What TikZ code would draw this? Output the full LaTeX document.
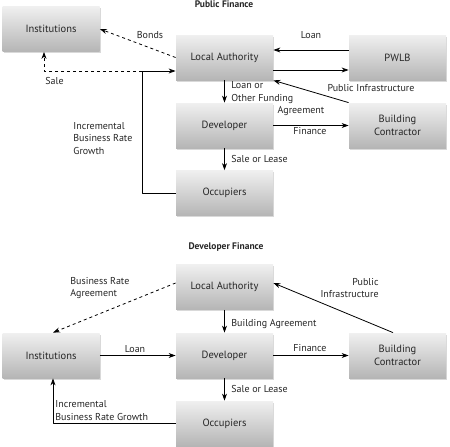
\documentclass[tikz,border=0pt]{standalone}
\usepackage{fontspec}
\setmainfont{PT Sans}
\usetikzlibrary{shadows,arrows.meta}
\begin{document}
\begin{tikzpicture}[x=1pt,y=-1pt,line join=round,>={Stealth[length=7pt,width=5pt]},line width=0.8pt,
	box/.style={rectangle,minimum width=97pt,minimum height=45pt,top color=gray!12,bottom color=gray!58,drop shadow={opacity=0.3,shadow xshift=1pt,shadow yshift=-1.5pt},text=black!85,align=center,font=\fontsize{10.5}{12.5}\selectfont},
	lbl/.style={font=\fontsize{10}{12.8}\selectfont,text=black!85,inner sep=0pt},
	ttl/.style={font=\bfseries\fontsize{9.5}{11}\selectfont,text=black!85,inner sep=0pt}]
	\useasboundingbox (0,0) rectangle (450,447);
	\node[ttl] (pf) at (224,4) {Public Finance};
	\node[box] (inst) at (51,29) {Institutions};
	\node[box] (la) at (224.5,57.5) {Local Authority};
	\node[box] (pwlb) at (397.5,57.5) {PWLB};
	\node[box] (dev) at (224.5,125.5) {Developer};
	\node[box] (bc) at (397.5,125.5) {Building\\Contractor};
	\node[box] (occ) at (224.5,193) {Occupiers};
	\node[lbl] (bonds) at (150,35) {Bonds};
	\node[lbl,anchor=west] (sale) at (45,81) {Sale};
	\node[lbl] (loan) at (311,35) {Loan};
	\node[lbl] (pubinf) at (371,88) {Public Infrastructure};
	\node[lbl,anchor=west,align=left] (lofa) at (231,92.5) {Loan or\\Other Funding};
	\node[lbl] (agr) at (301,111) {Agreement};
	\node[lbl] (fin) at (310,131) {Finance};
	\node[lbl,anchor=west] (sol) at (231,159) {Sale or Lease};
	\node[lbl,anchor=west,align=left] (ibrg) at (73,138.5) {Incremental\\Business Rate\\Growth};
	\coordinate (jn) at (142,71);
	\draw[->,dashed] (la.west) -- (inst.east);
	\draw[->,dashed] (jn) -| ([xshift=-7pt]inst.south);
	\draw[->] (occ.west) -| (jn) -- (jn -| la.west);
	\draw[->] ([yshift=7.5pt]pwlb.west) -- ([yshift=7.5pt]la.east);
	\draw[->] ([yshift=-12.5pt]la.east) -- ([yshift=-12.5pt]pwlb.west);
	\draw[->] (bc.north west) -- (la.south east);
	\draw[->] (la) -- (dev);
	\draw[->] (dev) -- (bc);
	\draw[->] (dev) -- (occ);
	\node[ttl] (df) at (226,247) {Developer Finance};
	\node[box] (la2) at (224.5,287) {Local Authority};
	\node[box] (inst2) at (51,355.5) {Institutions};
	\node[box] (dev2) at (224.5,355.5) {Developer};
	\node[box] (bc2) at (397.5,355.5) {Building\\Contractor};
	\node[box] (occ2) at (224.5,423.5) {Occupiers};
	\node[lbl,anchor=west,align=left] (bra) at (70,288) {Business Rate\\Agreement};
	\node[lbl,anchor=east,align=right] (pubinf2) at (379,288) {Public\\Infrastructure};
	\node[lbl,anchor=west] (bagr) at (231,324) {Building Agreement};
	\node[lbl] (loan2) at (135,349) {Loan};
	\node[lbl] (fin2) at (310,348) {Finance};
	\node[lbl,anchor=west] (sol2) at (231,389) {Sale or Lease};
	\node[lbl,anchor=west,align=left] (ibrg2) at (55,410.5) {Incremental\\Business Rate Growth};
	\draw[->,dashed] ([yshift=4pt]la2.west) -- ([xshift=2pt]inst2.north);
	\draw[->] ([xshift=-4.5pt]bc2.north) -- ([yshift=4pt]la2.east);
	\draw[->] (la2) -- (dev2);
	\draw[->] (inst2) -- (dev2);
	\draw[->] (dev2) -- (bc2);
	\draw[->] (dev2) -- (occ2);
	\draw[->] (occ2.west) -| ([xshift=2pt]inst2.south);
\end{tikzpicture}
\end{document}
